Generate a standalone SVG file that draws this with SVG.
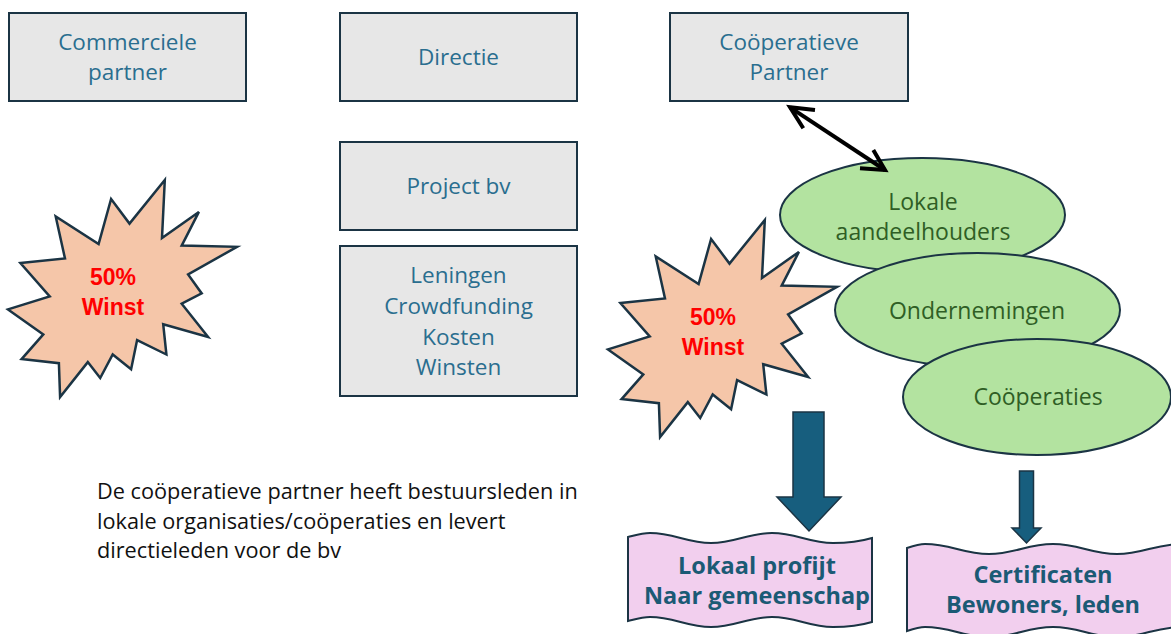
<svg xmlns="http://www.w3.org/2000/svg" xmlns:xlink="http://www.w3.org/1999/xlink" width="1171" height="634" viewBox="0 0 1171 634">
<style>
.box{fill:#E7E7E7;stroke:#1B3444;stroke-width:2}
.bt{font-family:"Open Sans","Liberation Sans",sans-serif;font-size:22.5px;fill:#2A6E8F;text-anchor:middle}
.ell{fill:#B3E3A0;stroke:#1B3444;stroke-width:2}
.et{font-family:"Open Sans","Liberation Sans",sans-serif;font-size:23px;fill:#2F5E25;text-anchor:middle}
.star{fill:#F5C6A9;stroke:#1B3444;stroke-width:2.5;stroke-linejoin:miter}
.st{font-family:"Liberation Sans",Arial,sans-serif;font-size:23px;font-weight:bold;fill:#FF0000;text-anchor:middle}
.flag{fill:#F2CFEE;stroke:#1B3444;stroke-width:2}
.ft{font-family:"Open Sans","Liberation Sans",sans-serif;font-size:23.5px;font-weight:bold;fill:#1B5A75;text-anchor:middle}
.down{fill:#175E7E;stroke:#1B3444;stroke-width:1.5}
.dbl{fill:none;stroke:#000;stroke-width:4;stroke-linejoin:miter}
.note{font-family:"Open Sans","Liberation Sans",sans-serif;font-size:21.7px;fill:#111}
</style>
<defs>
<path id="starShape" d="M129.5,223.6 L164.8,180 L162,238 L198.9,211.9 L181.7,245.6 L237,246.8 L188.1,274.5 L201.7,293.4 L181.7,303.7 L208.1,337 L163.2,324.2 L166.4,354.5 L137.1,340.1 L131.1,369.3 L112.7,354.5 L100.2,378 L87.8,362.1 L60.1,397 L58.9,363.2 L21.6,359.1 L43.3,334.4 L8,309.4 L49.7,296.5 L20.4,263.1 L65,258.5 L55.7,216.4 L98.6,244.1 L111.1,199 Z"/>
</defs>

<g id="commerciele-partner">
<rect class="box" x="9" y="13" width="237" height="88"/>
<text class="bt" x="127.5" y="50">Commerciele</text>
<text class="bt" x="127.5" y="80">partner</text>
</g>
<g id="directie">
<rect class="box" x="340" y="13" width="237" height="88"/>
<text class="bt" x="458.5" y="65">Directie</text>
</g>
<g id="cooperatieve-partner">
<rect class="box" x="670" y="13" width="238" height="88"/>
<text class="bt" x="789" y="50">Coöperatieve</text>
<text class="bt" x="789" y="80">Partner</text>
</g>
<g id="project-bv">
<rect class="box" x="340" y="142" width="237" height="88"/>
<text class="bt" x="458.5" y="194">Project  bv</text>
</g>
<g id="financien">
<rect class="box" x="340" y="246" width="237" height="150"/>
<text class="bt" x="458.5" y="283">Leningen</text>
<text class="bt" x="458.5" y="314">Crowdfunding</text>
<text class="bt" x="458.5" y="345">Kosten</text>
<text class="bt" x="458.5" y="375">Winsten</text>
</g>

<g id="winst-links">
<use xlink:href="#starShape" class="star"/>
<text class="st" x="113" y="285">50%</text>
<text class="st" x="113" y="315">Winst</text>
</g>
<g id="winst-rechts">
<use xlink:href="#starShape" class="star" transform="translate(600,40)"/>
<text class="st" x="713" y="325">50%</text>
<text class="st" x="713" y="355">Winst</text>
</g>

<g id="lokale-aandeelhouders">
<ellipse class="ell" cx="922.5" cy="215" rx="142.5" ry="57"/>
<text class="et" x="923" y="210">Lokale</text>
<text class="et" x="923" y="240">aandeelhouders</text>
</g>
<g id="ondernemingen">
<ellipse class="ell" cx="977.5" cy="310" rx="142.5" ry="57"/>
<text class="et" x="977" y="319">Ondernemingen</text>
</g>
<g id="cooperaties">
<ellipse class="ell" cx="1037" cy="397" rx="134" ry="58"/>
<text class="et" x="1038" y="405">Coöperaties</text>
</g>

<g id="connectors">
<path class="dbl" d="M790,107.3 L885,170"/>
<path class="dbl" d="M815,110 L790,107.3 L803.3,128.3"/>
<path class="dbl" d="M860,168.3 L885,170 L873.3,150"/>
<path class="down" d="M793,412 L824,412 L824,497 L841,497 L809,531 L777,497 L793,497 Z"/>
<path class="down" d="M1019.5,471 L1033.5,471 L1033.5,528 L1041,528 L1026.5,543 L1012,528 L1019.5,528 Z"/>
</g>

<g id="lokaal-profijt">
<path class="flag" d="M628,537 C636,535 642,533 650,533 C674,533 687,543 711,543 C735,543 748,533 772,533 C796,533 809,543 833,543 C849,543 862,541 872,538 L872,622 C862,625 849,627 833,627 C809,627 796,617 772,617 C748,617 735,627 711,627 C687,627 674,617 650,617 C642,617 636,619 628,621 Z"/>
<text class="ft" x="757" y="574">Lokaal profijt</text>
<text class="ft" x="757" y="604">Naar gemeenschap</text>
</g>
<g id="certificaten">
<path class="flag" d="M907,548 C913,546 919,544 925,544 C951,544 963,554 989,554 C1015,554 1027,544 1053,544 C1079,544 1091,554 1117,554 C1143,554 1155,544 1181,544 L1181,627 C1155,627 1143,637 1117,637 C1091,637 1079,627 1053,627 C1027,627 1015,637 989,637 C963,637 951,627 925,627 C919,627 913,629 907,631 Z"/>
<text class="ft" x="1043" y="583">Certificaten</text>
<text class="ft" x="1043" y="613">Bewoners, leden</text>
</g>

<g id="toelichting">
<text class="note" x="97" y="499">De coöperatieve partner heeft bestuursleden in</text>
<text class="note" x="97" y="529">lokale organisaties/coöperaties en levert</text>
<text class="note" x="97" y="558">directieleden voor de bv</text>
</g>
</svg>
